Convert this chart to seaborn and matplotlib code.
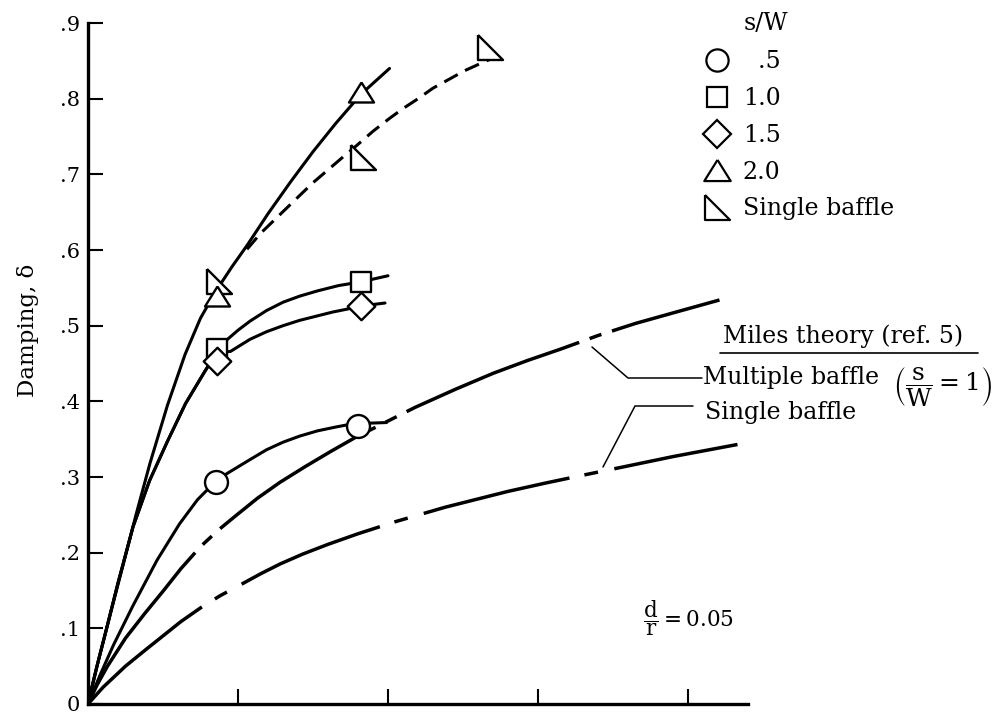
import numpy as np
import matplotlib
matplotlib.use('Agg')
import matplotlib.pyplot as plt
from matplotlib.lines import Line2D
import seaborn as sns

sns.set_theme(style='white')
plt.rcParams['font.family'] = ['DejaVu Serif', 'DejaVu Sans']
plt.rcParams['mathtext.fontset'] = 'dejavuserif'
plt.rcParams['lines.scale_dashes'] = False
plt.rcParams['text.color'] = 'black'

# test points, s/W values (x in units of the unlabeled x ticks)
circle_x = [0.85, 1.80]
circle_y = [0.294, 0.367]
square_x = [0.86, 1.82]
square_y = [0.469, 0.558]
diamond_x = [0.86, 1.82]
diamond_y = [0.453, 0.526]
tri_x = [0.86, 1.82]
tri_y = [0.539, 0.809]
single_x = [0.87, 1.83, 2.68]
single_y = [0.559, 0.723, 0.869]

# faired curves
c20_x = [0, 0.04, 0.08, 0.15, 0.233, 0.32, 0.413, 0.53, 0.647, 0.75, 0.86, 0.96, 1.06,
         1.2, 1.35, 1.5, 1.65, 1.82, 2.01]
c20_y = [0, 0.034, 0.066, 0.12, 0.183, 0.25, 0.318, 0.395, 0.462, 0.51, 0.548, 0.578, 0.606,
         0.648, 0.69, 0.73, 0.767, 0.806, 0.84]
shared_x = [0, 0.06, 0.127, 0.2, 0.3, 0.41, 0.527, 0.65, 0.78, 0.86]
shared_y = [0, 0.05, 0.102, 0.16, 0.234, 0.295, 0.346, 0.397, 0.44, 0.465]
c10_x = shared_x + [0.93, 1.0, 1.08, 1.19, 1.3, 1.41, 1.53, 1.67, 1.82, 2.0]
c10_y = shared_y + [0.482, 0.494, 0.506, 0.52, 0.531, 0.539, 0.546, 0.553, 0.558, 0.566]
c15_x = shared_x + [0.95, 1.08, 1.19, 1.3, 1.41, 1.53, 1.63, 1.73, 1.82, 1.98]
c15_y = shared_y + [0.466, 0.482, 0.492, 0.5, 0.507, 0.513, 0.518, 0.522, 0.526, 0.530]
c05_x = [0, 0.08, 0.17, 0.3, 0.46, 0.61, 0.73, 0.85, 0.93, 1.08, 1.19, 1.3, 1.41, 1.53,
         1.65, 1.73, 1.85, 1.99]
c05_y = [0, 0.038, 0.078, 0.13, 0.19, 0.238, 0.27, 0.294, 0.305, 0.323, 0.336, 0.346, 0.354,
         0.361, 0.366, 0.369, 0.371, 0.372]
single_fair_x = [1.06, 1.15, 1.27, 1.4, 1.5, 1.6, 1.7, 1.79, 1.9, 2.01, 2.1, 2.2, 2.3, 2.41,
                 2.51, 2.61, 2.69]
single_fair_y = [0.601, 0.622, 0.645, 0.67, 0.689, 0.706, 0.723, 0.738, 0.757, 0.774, 0.787,
                 0.80, 0.814, 0.826, 0.837, 0.846, 0.853]

# Miles theory
miles_multi_x = [0, 0.06, 0.13, 0.25, 0.38, 0.5, 0.62, 0.75, 0.87, 0.98, 1.13, 1.28, 1.45,
                 1.62, 1.78, 1.99, 2.18, 2.45, 2.7, 2.93, 3.15, 3.4, 3.65, 3.92, 4.21]
miles_multi_y = [0, 0.025, 0.05, 0.087, 0.12, 0.149, 0.179, 0.208, 0.23, 0.248, 0.272,
                 0.293, 0.314, 0.334, 0.352, 0.373, 0.392, 0.416, 0.437, 0.454, 0.469, 0.487,
                 0.503, 0.518, 0.534]
miles_single_x = [0, 0.1, 0.25, 0.38, 0.5, 0.62, 0.75, 0.88, 1.03, 1.15, 1.28, 1.43, 1.6,
                  1.8, 2.05, 2.38, 2.6, 2.8, 3.05, 3.29, 3.56, 3.9, 4.33]
miles_single_y = [0, 0.022, 0.05, 0.071, 0.09, 0.109, 0.127, 0.143, 0.159, 0.172, 0.185,
                  0.198, 0.211, 0.225, 0.241, 0.26, 0.271, 0.281, 0.292, 0.302, 0.313, 0.327,
                  0.343]

yticks = [0, 0.1, 0.2, 0.3, 0.4, 0.5, 0.6, 0.7, 0.8, 0.9]
ytick_labels = ['0', '.1', '.2', '.3', '.4', '.5', '.6', '.7', '.8', '.9']
xticks = [1, 2, 3, 4]

FS = 17
fig = plt.figure(figsize=(10, 7.19), dpi=100)
ax = fig.add_axes([0.088, 0.0209, 0.66, 0.947])


def fx(px):
    return px / 1000


def fy(py):
    return 1 - py / 719


lw = 2.2
for xs, ys in [(c20_x, c20_y), (c10_x, c10_y), (c15_x, c15_y), (c05_x, c05_y)]:
    sns.lineplot(x=xs, y=ys, sort=False, estimator=None, color='black', lw=lw, ax=ax)
sns.lineplot(x=single_fair_x, y=single_fair_y, sort=False, estimator=None, color='black',
             lw=lw, linestyle=(0, (11, 6)), ax=ax)
sns.lineplot(x=miles_multi_x, y=miles_multi_y, sort=False, estimator=None, color='black',
             lw=2.5, linestyle=(0, (134, 8, 9, 8)), ax=ax)
sns.lineplot(x=miles_single_x, y=miles_single_y, sort=False, estimator=None, color='black',
             lw=2.5, linestyle=(0, (108, 11, 10, 12)), ax=ax)

tri_up = [(0, 0.8), (-1, -0.8), (1, -0.8), (0, 0.8)]
right_tri = [(-1, 1), (-1, -1), (1, -1), (-1, 1)]
mk = dict(color='white', edgecolor='black', linewidth=1.7, zorder=5, ax=ax)
sns.scatterplot(x=single_x, y=single_y, marker=right_tri, s=18 ** 2, **mk)
sns.scatterplot(x=tri_x, y=tri_y, marker=tri_up, s=18 ** 2, **mk)
sns.scatterplot(x=square_x, y=square_y, marker='s', s=15 ** 2, **mk)
sns.scatterplot(x=diamond_x, y=diamond_y, marker='D', s=14 ** 2, **mk)
sns.scatterplot(x=circle_x, y=circle_y, marker='o', s=16.5 ** 2, **mk)

ax.set_xlim(0, 4.4)
ax.set_ylim(0, 0.9)
ax.set_xticks(xticks)
ax.set_xticklabels([])
ax.set_yticks(yticks)
ax.set_yticklabels(ytick_labels)
sns.despine(ax=ax)
for s in ['left', 'bottom']:
    ax.spines[s].set_linewidth(2.4)
    ax.spines[s].set_color('black')
ax.tick_params(direction='in', length=11, width=1.5, colors='black', labelsize=15, pad=6,
               left=True, bottom=True)
ax.set_facecolor('white')

# legend of symbols
handles = [
    Line2D([], [], ls='none', marker='o', ms=16, mfc='white', mec='black', mew=1.6),
    Line2D([], [], ls='none', marker='s', ms=15, mfc='white', mec='black', mew=1.6),
    Line2D([], [], ls='none', marker='D', ms=14, mfc='white', mec='black', mew=1.6),
    Line2D([], [], ls='none', marker=tri_up, ms=19, mfc='white', mec='black', mew=1.6),
    Line2D([], [], ls='none', marker=right_tri, ms=18, mfc='white', mec='black', mew=1.6),
]
labels = ['\u2007.5', '1.0', '1.5', '2.0', 'Single baffle']
fig.legend(handles, labels, loc='upper left', bbox_to_anchor=(fx(705), fy(50.5)), frameon=False,
           fontsize=FS, handlelength=1.0, handletextpad=0.6, labelspacing=0.58,
           borderpad=0, borderaxespad=0)
fig.text(fx(766), fy(24), 's/W', ha='center', va='center', fontsize=FS)

# Miles theory labels
fig.text(fx(723), fy(336), 'Miles theory (ref. 5)', ha='left', va='center', fontsize=FS)
fig.add_artist(Line2D([fx(720), fx(978)], [fy(353), fy(353)], transform=fig.transFigure,
                      color='black', lw=1.2))
fig.text(fx(703), fy(378), 'Multiple baffle', ha='left', va='center', fontsize=FS)
fig.text(fx(893), fy(386), r'$\left(\dfrac{\mathrm{s}}{\mathrm{W}} = 1\right)$', ha='left',
         va='center', fontsize=18)
fig.text(fx(705), fy(412), 'Single baffle', ha='left', va='center', fontsize=FS)
fig.add_artist(Line2D([fx(592), fx(628), fx(702)], [fy(347), fy(378), fy(378)],
                      transform=fig.transFigure, color='black', lw=1.1))
fig.add_artist(Line2D([fx(603), fx(635), fx(693)], [fy(467), fy(406), fy(406)],
                      transform=fig.transFigure, color='black', lw=1.1))

fig.text(fx(643), fy(618), r'$\dfrac{\mathrm{d}}{\mathrm{r}} = 0.05$', ha='left', va='center',
         fontsize=15.5)
fig.text(fx(28), fy(330), 'Damping, δ', rotation=90, ha='center', va='center', fontsize=16.5)

fig.savefig('out.png', dpi=100, facecolor='white')
